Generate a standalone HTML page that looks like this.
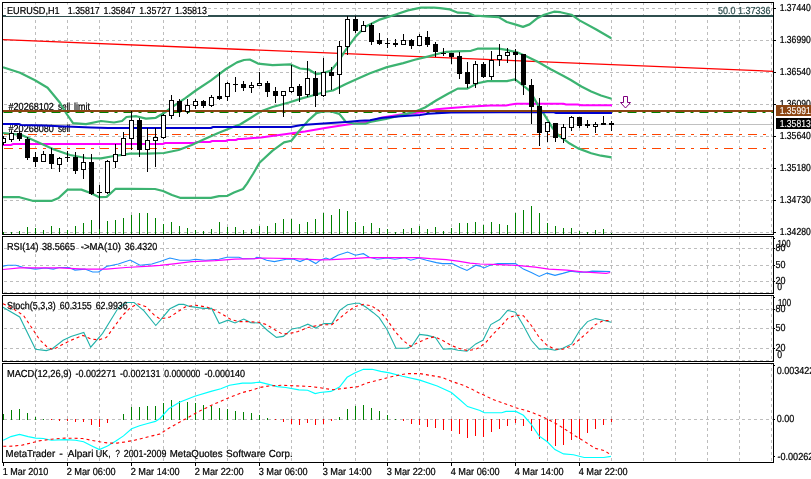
<!DOCTYPE html>
<html><head><meta charset="utf-8"><title>EURUSD,H1</title>
<style>html,body{margin:0;padding:0;background:#fff;overflow:hidden}svg{display:block}text{stroke:#000;stroke-width:.12px;font-family:"Liberation Sans",sans-serif;font-size:10.2px;text-rendering:geometricPrecision;fill:#000}</style></head><body>
<svg width="811" height="479" viewBox="0 0 811 479">
<rect width="811" height="479" fill="#fff"/>
<g stroke="#bdbdbd" stroke-width="1" stroke-dasharray="3 3" shape-rendering="crispEdges" fill="none">
<line x1="35.5" y1="2" x2="35.5" y2="234"/>
<line x1="67.5" y1="2" x2="67.5" y2="234"/>
<line x1="99.5" y1="2" x2="99.5" y2="234"/>
<line x1="131.5" y1="2" x2="131.5" y2="234"/>
<line x1="163.5" y1="2" x2="163.5" y2="234"/>
<line x1="195.5" y1="2" x2="195.5" y2="234"/>
<line x1="227.5" y1="2" x2="227.5" y2="234"/>
<line x1="259.5" y1="2" x2="259.5" y2="234"/>
<line x1="291.5" y1="2" x2="291.5" y2="234"/>
<line x1="323.5" y1="2" x2="323.5" y2="234"/>
<line x1="355.5" y1="2" x2="355.5" y2="234"/>
<line x1="387.5" y1="2" x2="387.5" y2="234"/>
<line x1="419.5" y1="2" x2="419.5" y2="234"/>
<line x1="451.5" y1="2" x2="451.5" y2="234"/>
<line x1="483.5" y1="2" x2="483.5" y2="234"/>
<line x1="515.5" y1="2" x2="515.5" y2="234"/>
<line x1="547.5" y1="2" x2="547.5" y2="234"/>
<line x1="579.5" y1="2" x2="579.5" y2="234"/>
<line x1="611.5" y1="2" x2="611.5" y2="234"/>
<line x1="643.5" y1="2" x2="643.5" y2="234"/>
<line x1="675.5" y1="2" x2="675.5" y2="234"/>
<line x1="707.5" y1="2" x2="707.5" y2="234"/>
<line x1="739.5" y1="2" x2="739.5" y2="234"/>
<line x1="771.5" y1="2" x2="771.5" y2="234"/>
<line x1="35.5" y1="236" x2="35.5" y2="293" stroke-dashoffset="0"/>
<line x1="67.5" y1="236" x2="67.5" y2="293" stroke-dashoffset="0"/>
<line x1="99.5" y1="236" x2="99.5" y2="293" stroke-dashoffset="0"/>
<line x1="131.5" y1="236" x2="131.5" y2="293" stroke-dashoffset="0"/>
<line x1="163.5" y1="236" x2="163.5" y2="293" stroke-dashoffset="0"/>
<line x1="195.5" y1="236" x2="195.5" y2="293" stroke-dashoffset="0"/>
<line x1="227.5" y1="236" x2="227.5" y2="293" stroke-dashoffset="0"/>
<line x1="259.5" y1="236" x2="259.5" y2="293" stroke-dashoffset="0"/>
<line x1="291.5" y1="236" x2="291.5" y2="293" stroke-dashoffset="0"/>
<line x1="323.5" y1="236" x2="323.5" y2="293" stroke-dashoffset="0"/>
<line x1="355.5" y1="236" x2="355.5" y2="293" stroke-dashoffset="0"/>
<line x1="387.5" y1="236" x2="387.5" y2="293" stroke-dashoffset="0"/>
<line x1="419.5" y1="236" x2="419.5" y2="293" stroke-dashoffset="0"/>
<line x1="451.5" y1="236" x2="451.5" y2="293" stroke-dashoffset="0"/>
<line x1="483.5" y1="236" x2="483.5" y2="293" stroke-dashoffset="0"/>
<line x1="515.5" y1="236" x2="515.5" y2="293" stroke-dashoffset="0"/>
<line x1="547.5" y1="236" x2="547.5" y2="293" stroke-dashoffset="0"/>
<line x1="579.5" y1="236" x2="579.5" y2="293" stroke-dashoffset="0"/>
<line x1="611.5" y1="236" x2="611.5" y2="293" stroke-dashoffset="0"/>
<line x1="643.5" y1="236" x2="643.5" y2="293" stroke-dashoffset="0"/>
<line x1="675.5" y1="236" x2="675.5" y2="293" stroke-dashoffset="0"/>
<line x1="707.5" y1="236" x2="707.5" y2="293" stroke-dashoffset="0"/>
<line x1="739.5" y1="236" x2="739.5" y2="293" stroke-dashoffset="0"/>
<line x1="771.5" y1="236" x2="771.5" y2="293" stroke-dashoffset="0"/>
<line x1="35.5" y1="295" x2="35.5" y2="361" stroke-dashoffset="5"/>
<line x1="67.5" y1="295" x2="67.5" y2="361" stroke-dashoffset="5"/>
<line x1="99.5" y1="295" x2="99.5" y2="361" stroke-dashoffset="5"/>
<line x1="131.5" y1="295" x2="131.5" y2="361" stroke-dashoffset="5"/>
<line x1="163.5" y1="295" x2="163.5" y2="361" stroke-dashoffset="5"/>
<line x1="195.5" y1="295" x2="195.5" y2="361" stroke-dashoffset="5"/>
<line x1="227.5" y1="295" x2="227.5" y2="361" stroke-dashoffset="5"/>
<line x1="259.5" y1="295" x2="259.5" y2="361" stroke-dashoffset="5"/>
<line x1="291.5" y1="295" x2="291.5" y2="361" stroke-dashoffset="5"/>
<line x1="323.5" y1="295" x2="323.5" y2="361" stroke-dashoffset="5"/>
<line x1="355.5" y1="295" x2="355.5" y2="361" stroke-dashoffset="5"/>
<line x1="387.5" y1="295" x2="387.5" y2="361" stroke-dashoffset="5"/>
<line x1="419.5" y1="295" x2="419.5" y2="361" stroke-dashoffset="5"/>
<line x1="451.5" y1="295" x2="451.5" y2="361" stroke-dashoffset="5"/>
<line x1="483.5" y1="295" x2="483.5" y2="361" stroke-dashoffset="5"/>
<line x1="515.5" y1="295" x2="515.5" y2="361" stroke-dashoffset="5"/>
<line x1="547.5" y1="295" x2="547.5" y2="361" stroke-dashoffset="5"/>
<line x1="579.5" y1="295" x2="579.5" y2="361" stroke-dashoffset="5"/>
<line x1="611.5" y1="295" x2="611.5" y2="361" stroke-dashoffset="5"/>
<line x1="643.5" y1="295" x2="643.5" y2="361" stroke-dashoffset="5"/>
<line x1="675.5" y1="295" x2="675.5" y2="361" stroke-dashoffset="5"/>
<line x1="707.5" y1="295" x2="707.5" y2="361" stroke-dashoffset="5"/>
<line x1="739.5" y1="295" x2="739.5" y2="361" stroke-dashoffset="5"/>
<line x1="771.5" y1="295" x2="771.5" y2="361" stroke-dashoffset="5"/>
<line x1="35.5" y1="363" x2="35.5" y2="462" stroke-dashoffset="1"/>
<line x1="67.5" y1="363" x2="67.5" y2="462" stroke-dashoffset="1"/>
<line x1="99.5" y1="363" x2="99.5" y2="462" stroke-dashoffset="1"/>
<line x1="131.5" y1="363" x2="131.5" y2="462" stroke-dashoffset="1"/>
<line x1="163.5" y1="363" x2="163.5" y2="462" stroke-dashoffset="1"/>
<line x1="195.5" y1="363" x2="195.5" y2="462" stroke-dashoffset="1"/>
<line x1="227.5" y1="363" x2="227.5" y2="462" stroke-dashoffset="1"/>
<line x1="259.5" y1="363" x2="259.5" y2="462" stroke-dashoffset="1"/>
<line x1="291.5" y1="363" x2="291.5" y2="462" stroke-dashoffset="1"/>
<line x1="323.5" y1="363" x2="323.5" y2="462" stroke-dashoffset="1"/>
<line x1="355.5" y1="363" x2="355.5" y2="462" stroke-dashoffset="1"/>
<line x1="387.5" y1="363" x2="387.5" y2="462" stroke-dashoffset="1"/>
<line x1="419.5" y1="363" x2="419.5" y2="462" stroke-dashoffset="1"/>
<line x1="451.5" y1="363" x2="451.5" y2="462" stroke-dashoffset="1"/>
<line x1="483.5" y1="363" x2="483.5" y2="462" stroke-dashoffset="1"/>
<line x1="515.5" y1="363" x2="515.5" y2="462" stroke-dashoffset="1"/>
<line x1="547.5" y1="363" x2="547.5" y2="462" stroke-dashoffset="1"/>
<line x1="579.5" y1="363" x2="579.5" y2="462" stroke-dashoffset="1"/>
<line x1="611.5" y1="363" x2="611.5" y2="462" stroke-dashoffset="1"/>
<line x1="643.5" y1="363" x2="643.5" y2="462" stroke-dashoffset="1"/>
<line x1="675.5" y1="363" x2="675.5" y2="462" stroke-dashoffset="1"/>
<line x1="707.5" y1="363" x2="707.5" y2="462" stroke-dashoffset="1"/>
<line x1="739.5" y1="363" x2="739.5" y2="462" stroke-dashoffset="1"/>
<line x1="771.5" y1="363" x2="771.5" y2="462" stroke-dashoffset="1"/>
<line x1="4" y1="8.5" x2="773" y2="8.5"/>
<line x1="4" y1="40.5" x2="773" y2="40.5"/>
<line x1="4" y1="72.5" x2="773" y2="72.5"/>
<line x1="4" y1="104.5" x2="773" y2="104.5"/>
<line x1="4" y1="136.5" x2="773" y2="136.5"/>
<line x1="4" y1="168.5" x2="773" y2="168.5"/>
<line x1="4" y1="200.5" x2="773" y2="200.5"/>
<line x1="4" y1="232.5" x2="773" y2="232.5"/>
<line x1="4" y1="248.5" x2="773" y2="248.5"/>
<line x1="4" y1="265.5" x2="773" y2="265.5"/>
<line x1="4" y1="281.5" x2="773" y2="281.5"/>
<line x1="4" y1="292.5" x2="773" y2="292.5"/>
<line x1="4" y1="309.5" x2="773" y2="309.5"/>
<line x1="4" y1="328.5" x2="773" y2="328.5"/>
<line x1="4" y1="348.5" x2="773" y2="348.5"/>
<line x1="4" y1="360.5" x2="773" y2="360.5"/>
<line x1="4" y1="419.5" x2="773" y2="419.5"/>
</g>
<g stroke="#008000" stroke-width="1" shape-rendering="crispEdges">
<line x1="3.5" y1="232.0" x2="3.5" y2="234"/>
<line x1="11.5" y1="232.0" x2="11.5" y2="234"/>
<line x1="19.5" y1="231.0" x2="19.5" y2="234"/>
<line x1="27.5" y1="227.0" x2="27.5" y2="234"/>
<line x1="35.5" y1="228.0" x2="35.5" y2="234"/>
<line x1="43.5" y1="229.8" x2="43.5" y2="234"/>
<line x1="51.5" y1="226.0" x2="51.5" y2="234"/>
<line x1="59.5" y1="228.0" x2="59.5" y2="234"/>
<line x1="67.5" y1="230.0" x2="67.5" y2="234"/>
<line x1="75.5" y1="226.0" x2="75.5" y2="234"/>
<line x1="83.5" y1="223.0" x2="83.5" y2="234"/>
<line x1="91.5" y1="220.0" x2="91.5" y2="234"/>
<line x1="99.5" y1="218.0" x2="99.5" y2="234"/>
<line x1="107.5" y1="220.8" x2="107.5" y2="234"/>
<line x1="115.5" y1="220.0" x2="115.5" y2="234"/>
<line x1="123.5" y1="218.0" x2="123.5" y2="234"/>
<line x1="131.5" y1="215.0" x2="131.5" y2="234"/>
<line x1="139.5" y1="213.0" x2="139.5" y2="234"/>
<line x1="147.5" y1="213.0" x2="147.5" y2="234"/>
<line x1="155.5" y1="217.8" x2="155.5" y2="234"/>
<line x1="163.5" y1="224.0" x2="163.5" y2="234"/>
<line x1="171.5" y1="222.0" x2="171.5" y2="234"/>
<line x1="179.5" y1="226.0" x2="179.5" y2="234"/>
<line x1="187.5" y1="228.0" x2="187.5" y2="234"/>
<line x1="195.5" y1="230.0" x2="195.5" y2="234"/>
<line x1="203.5" y1="231.0" x2="203.5" y2="234"/>
<line x1="211.5" y1="229.2" x2="211.5" y2="234"/>
<line x1="219.5" y1="222.0" x2="219.5" y2="234"/>
<line x1="227.5" y1="226.8" x2="227.5" y2="234"/>
<line x1="235.5" y1="226.8" x2="235.5" y2="234"/>
<line x1="243.5" y1="230.0" x2="243.5" y2="234"/>
<line x1="251.5" y1="228.9" x2="251.5" y2="234"/>
<line x1="259.5" y1="226.0" x2="259.5" y2="234"/>
<line x1="267.5" y1="226.0" x2="267.5" y2="234"/>
<line x1="275.5" y1="223.0" x2="275.5" y2="234"/>
<line x1="283.5" y1="219.0" x2="283.5" y2="234"/>
<line x1="291.5" y1="219.0" x2="291.5" y2="234"/>
<line x1="299.5" y1="224.0" x2="299.5" y2="234"/>
<line x1="307.5" y1="222.0" x2="307.5" y2="234"/>
<line x1="315.5" y1="219.0" x2="315.5" y2="234"/>
<line x1="323.5" y1="212.8" x2="323.5" y2="234"/>
<line x1="331.5" y1="215.0" x2="331.5" y2="234"/>
<line x1="339.5" y1="208.8" x2="339.5" y2="234"/>
<line x1="347.5" y1="211.0" x2="347.5" y2="234"/>
<line x1="355.5" y1="222.0" x2="355.5" y2="234"/>
<line x1="363.5" y1="226.0" x2="363.5" y2="234"/>
<line x1="371.5" y1="223.0" x2="371.5" y2="234"/>
<line x1="379.5" y1="228.0" x2="379.5" y2="234"/>
<line x1="387.5" y1="229.0" x2="387.5" y2="234"/>
<line x1="395.5" y1="232.0" x2="395.5" y2="234"/>
<line x1="403.5" y1="229.0" x2="403.5" y2="234"/>
<line x1="411.5" y1="228.0" x2="411.5" y2="234"/>
<line x1="419.5" y1="226.0" x2="419.5" y2="234"/>
<line x1="427.5" y1="229.0" x2="427.5" y2="234"/>
<line x1="435.5" y1="227.0" x2="435.5" y2="234"/>
<line x1="443.5" y1="231.0" x2="443.5" y2="234"/>
<line x1="451.5" y1="228.0" x2="451.5" y2="234"/>
<line x1="459.5" y1="223.0" x2="459.5" y2="234"/>
<line x1="467.5" y1="223.0" x2="467.5" y2="234"/>
<line x1="475.5" y1="222.0" x2="475.5" y2="234"/>
<line x1="483.5" y1="224.8" x2="483.5" y2="234"/>
<line x1="491.5" y1="222.0" x2="491.5" y2="234"/>
<line x1="499.5" y1="224.0" x2="499.5" y2="234"/>
<line x1="507.5" y1="225.0" x2="507.5" y2="234"/>
<line x1="515.5" y1="212.8" x2="515.5" y2="234"/>
<line x1="523.5" y1="210.0" x2="523.5" y2="234"/>
<line x1="531.5" y1="206.0" x2="531.5" y2="234"/>
<line x1="539.5" y1="212.8" x2="539.5" y2="234"/>
<line x1="547.5" y1="223.0" x2="547.5" y2="234"/>
<line x1="555.5" y1="226.0" x2="555.5" y2="234"/>
<line x1="563.5" y1="228.0" x2="563.5" y2="234"/>
<line x1="571.5" y1="228.0" x2="571.5" y2="234"/>
<line x1="579.5" y1="231.0" x2="579.5" y2="234"/>
<line x1="587.5" y1="232.0" x2="587.5" y2="234"/>
<line x1="595.5" y1="230.0" x2="595.5" y2="234"/>
<line x1="603.5" y1="229.0" x2="603.5" y2="234"/>
<line x1="611.5" y1="232.6" x2="611.5" y2="234"/>
</g>
<line x1="3" y1="124.5" x2="773" y2="124.5" stroke="#c0c0c0" shape-rendering="crispEdges"/>
<rect x="3" y="15" width="770" height="2" fill="#2f4f4f" />
<line x1="3" y1="39.6" x2="773" y2="71.3" stroke="#ff0000" stroke-width="1.3"/>
<g stroke="#ff4500" stroke-width="1" stroke-dasharray="9 6 3 6" shape-rendering="crispEdges">
<line x1="3.5" y1="134.5" x2="770" y2="134.5"/><line x1="3.5" y1="148.5" x2="770" y2="148.5"/></g>
<defs><filter id="tf" x="0" y="0" width="811" height="479" filterUnits="userSpaceOnUse" color-interpolation-filters="sRGB"><feComponentTransfer><feFuncA type="gamma" amplitude="1" exponent="0.8" offset="0"/></feComponentTransfer></filter></defs>
<g filter="url(#tf)">
<text x="8.5" y="110.0" textLength="45.4" lengthAdjust="spacingAndGlyphs">#20268102</text>
<text x="57.9" y="110.0" textLength="12.3" lengthAdjust="spacingAndGlyphs">sell</text>
<text x="8.5" y="132.0" textLength="45.4" lengthAdjust="spacingAndGlyphs">#20268080</text>
<text x="57.9" y="132.0" textLength="12.3" lengthAdjust="spacingAndGlyphs">sell</text>
<text x="74.1" y="110.0" textLength="15.9" lengthAdjust="spacingAndGlyphs">limit</text>
</g>
<line x1="3.5" y1="112.5" x2="773" y2="112.5" stroke="#008000" stroke-width="1.2" stroke-dasharray="9 6 3 6"/>
<polyline fill="none" stroke="#ff00ff" stroke-width="2" points="3.0,145.0 11.0,145.0 13.0,144.0 163.0,144.0 165.0,143.0 195.0,143.0 197.0,142.0 210.0,142.0 212.0,141.0 226.0,141.0 228.0,140.0 236.0,140.0 238.0,139.0 242.0,139.0 261.0,137.4 281.0,134.8 305.0,131.6 325.0,128.0 346.0,124.7 370.0,121.5 381.0,117.8 400.7,114.5 420.0,112.4 436.5,109.2 451.0,108.0 467.5,106.7 490.0,105.4 506.0,105.4 516.0,103.7 563.5,103.7 566.0,104.5 578.0,104.5 581.0,105.2 612.0,105.2"/>
<g fill="none" stroke="#3cb371" stroke-width="2.2" stroke-linejoin="round">
<polyline points="3.0,67.2 20.0,72.7 35.0,80.2 47.6,87.7 60.0,102.8 66.0,113.0 73.0,123.2 86.0,124.2 101.0,121.0 114.0,122.5 122.0,121.0 126.5,117.0 136.3,116.2 146.0,118.6 155.8,117.8 164.0,113.0 172.0,107.2 185.0,98.3 196.5,90.0 211.0,80.4 226.0,69.0 237.0,62.4 244.0,60.0 249.8,59.5 258.0,63.6 272.6,65.2 290.5,64.4 300.0,68.5 308.4,69.3 316.5,74.2 324.7,72.6 331.0,70.5 337.0,63.3 346.3,49.2 356.0,36.2 365.8,26.4 378.9,19.9 395.0,14.8 408.0,10.4 421.0,7.7 434.0,7.7 440.0,8.1 449.8,9.4 458.0,12.7 467.7,13.0 474.2,15.5 486.0,16.3 498.6,17.1 506.8,22.0 515.0,24.4 523.0,26.9 529.6,24.4 537.7,17.9 544.2,14.7 554.0,11.7 560.5,12.2 571.4,14.7 579.5,20.4 595.8,29.3 611.3,38.3"/>
<polyline points="3.0,133.0 21.0,134.8 37.5,142.0 54.0,149.5 70.0,155.0 86.0,158.0 101.0,158.4 114.0,156.0 122.0,154.8 130.0,153.6 147.7,153.6 164.0,153.0 178.6,150.0 191.7,145.0 204.7,139.0 217.7,133.2 232.4,127.3 240.0,124.5 249.8,118.5 261.0,111.3 272.6,107.0 288.9,102.5 301.9,98.4 311.7,95.7 324.7,92.0 332.8,90.5 345.9,84.0 357.0,79.0 370.0,73.2 387.0,67.1 403.3,63.1 414.7,59.8 427.7,56.6 440.0,53.3 446.5,51.8 456.3,51.3 471.0,50.8 477.5,48.7 498.6,48.7 505.0,49.7 516.5,52.1 526.3,56.3 537.7,61.8 550.7,69.2 564.0,76.2 570.8,80.0 581.4,86.5 591.2,91.4 601.0,95.5 611.6,98.7"/>
<polyline points="3.0,197.2 19.5,197.2 32.5,200.8 52.0,200.8 58.6,198.0 67.6,189.6 81.4,189.6 91.2,193.2 99.3,197.2 106.7,196.9 115.6,188.8 130.0,188.8 155.0,189.0 163.0,191.0 172.0,195.0 180.0,197.8 211.0,197.8 219.0,196.2 227.5,195.8 234.0,192.6 243.0,189.0 247.0,183.6 250.0,178.7 253.0,174.0 259.5,162.8 272.6,150.6 284.0,142.4 291.3,140.8 298.6,131.8 308.4,120.4 316.5,113.1 323.0,111.5 331.2,111.5 339.3,113.9 345.9,122.0 354.0,123.7 365.4,123.7 370.0,122.0 386.0,119.0 402.3,114.9 415.4,111.6 425.0,107.5 436.5,100.2 448.0,93.7 457.7,88.6 467.5,88.6 477.5,83.3 487.5,81.1 507.0,81.1 515.0,79.4 521.7,84.3 529.8,90.8 537.5,104.4 544.0,114.2 552.0,127.2 558.6,135.4 568.4,142.7 578.2,148.4 591.2,153.3 601.0,155.7 611.6,157.4"/>
</g>
<polyline fill="none" stroke="#0000cd" stroke-width="2" points="3.0,124.0 19.0,124.0 21.0,125.0 44.0,125.4 60.0,126.3 91.0,127.5 108.0,128.0 211.0,128.0 213.0,127.0 291.0,127.0 296.0,126.0 302.0,125.0 316.0,124.0 331.0,123.0 346.0,122.0 360.0,120.8 370.0,120.2 381.0,118.1 400.7,116.2 420.0,114.9 428.0,113.7 451.0,112.6 500.0,112.2 554.0,112.2 556.0,113.0 612.0,113.0"/>
<rect x="3" y="110" width="770" height="2" fill="#8b4513"/>
<clipPath id="cp"><rect x="3" y="3" width="770" height="231"/></clipPath>
<g stroke="#000" stroke-width="1" shape-rendering="crispEdges" clip-path="url(#cp)">
<line x1="3.5" y1="136" x2="3.5" y2="145"/>
<rect x="1.5" y="138.5" width="4" height="4" fill="#fff"/>
<line x1="11.5" y1="131" x2="11.5" y2="142"/>
<rect x="9.5" y="133.5" width="4" height="6" fill="#fff"/>
<line x1="19.5" y1="131" x2="19.5" y2="141"/>
<rect x="17.5" y="133.5" width="4" height="5" fill="#000"/>
<line x1="27.5" y1="137" x2="27.5" y2="160"/>
<rect x="25.5" y="139.5" width="4" height="18" fill="#000"/>
<line x1="35.5" y1="152" x2="35.5" y2="167"/>
<rect x="33.5" y="157.5" width="4" height="4" fill="#000"/>
<line x1="43.5" y1="151" x2="43.5" y2="162"/>
<rect x="41.5" y="154.5" width="4" height="7" fill="#fff"/>
<line x1="51.5" y1="148" x2="51.5" y2="169"/>
<rect x="49.5" y="154.5" width="4" height="9" fill="#000"/>
<line x1="59.5" y1="157" x2="59.5" y2="172"/>
<rect x="57.5" y="158.5" width="4" height="6" fill="#fff"/>
<line x1="67.5" y1="151" x2="67.5" y2="162"/>
<line x1="65" y1="157.5" x2="70" y2="157.5"/>
<line x1="75.5" y1="152" x2="75.5" y2="174"/>
<rect x="73.5" y="157.5" width="4" height="13" fill="#000"/>
<line x1="83.5" y1="154" x2="83.5" y2="179"/>
<rect x="81.5" y="162.5" width="4" height="7" fill="#fff"/>
<line x1="91.5" y1="154" x2="91.5" y2="195"/>
<rect x="89.5" y="162.5" width="4" height="31" fill="#000"/>
<line x1="99.5" y1="185" x2="99.5" y2="229"/>
<line x1="97" y1="192.5" x2="102" y2="192.5"/>
<line x1="107.5" y1="160" x2="107.5" y2="194"/>
<rect x="105.5" y="161.5" width="4" height="31" fill="#fff"/>
<line x1="115.5" y1="144" x2="115.5" y2="168"/>
<rect x="113.5" y="154.5" width="4" height="7" fill="#fff"/>
<line x1="123.5" y1="132" x2="123.5" y2="156"/>
<rect x="121.5" y="138.5" width="4" height="17" fill="#fff"/>
<line x1="131.5" y1="111" x2="131.5" y2="150"/>
<rect x="129.5" y="120.5" width="4" height="18" fill="#fff"/>
<line x1="139.5" y1="118" x2="139.5" y2="157"/>
<rect x="137.5" y="120.5" width="4" height="29" fill="#000"/>
<line x1="147.5" y1="128" x2="147.5" y2="172"/>
<rect x="145.5" y="140.5" width="4" height="9" fill="#fff"/>
<line x1="155.5" y1="128" x2="155.5" y2="167"/>
<rect x="153.5" y="137.5" width="4" height="3" fill="#fff"/>
<line x1="163.5" y1="114" x2="163.5" y2="139"/>
<rect x="161.5" y="115.5" width="4" height="22" fill="#fff"/>
<line x1="171.5" y1="95" x2="171.5" y2="119"/>
<rect x="169.5" y="100.5" width="4" height="15" fill="#fff"/>
<line x1="179.5" y1="99" x2="179.5" y2="117"/>
<rect x="177.5" y="101.5" width="4" height="10" fill="#000"/>
<line x1="187.5" y1="99" x2="187.5" y2="114"/>
<rect x="185.5" y="105.5" width="4" height="6" fill="#fff"/>
<line x1="195.5" y1="99" x2="195.5" y2="109"/>
<rect x="193.5" y="101.5" width="4" height="4" fill="#fff"/>
<line x1="203.5" y1="100" x2="203.5" y2="108"/>
<rect x="201.5" y="101.5" width="4" height="4" fill="#000"/>
<line x1="211.5" y1="95" x2="211.5" y2="107"/>
<rect x="209.5" y="97.5" width="4" height="8" fill="#fff"/>
<line x1="219.5" y1="72" x2="219.5" y2="100"/>
<rect x="217.5" y="96.5" width="4" height="2" fill="#000"/>
<line x1="227.5" y1="82" x2="227.5" y2="101"/>
<rect x="225.5" y="83.5" width="4" height="13" fill="#fff"/>
<line x1="235.5" y1="77" x2="235.5" y2="92"/>
<line x1="233" y1="84.5" x2="238" y2="84.5"/>
<line x1="243.5" y1="81" x2="243.5" y2="91"/>
<rect x="241.5" y="84.5" width="4" height="3" fill="#000"/>
<line x1="251.5" y1="82" x2="251.5" y2="93"/>
<rect x="249.5" y="85.5" width="4" height="2" fill="#fff"/>
<line x1="259.5" y1="72" x2="259.5" y2="86"/>
<rect x="257.5" y="83.5" width="4" height="2" fill="#fff"/>
<line x1="267.5" y1="81" x2="267.5" y2="97"/>
<rect x="265.5" y="83.5" width="4" height="8" fill="#000"/>
<line x1="275.5" y1="87" x2="275.5" y2="103"/>
<rect x="273.5" y="91.5" width="4" height="4" fill="#000"/>
<line x1="283.5" y1="91" x2="283.5" y2="117"/>
<rect x="281.5" y="91.5" width="4" height="4" fill="#fff"/>
<line x1="291.5" y1="65" x2="291.5" y2="93"/>
<rect x="289.5" y="87.5" width="4" height="4" fill="#fff"/>
<line x1="299.5" y1="84" x2="299.5" y2="102"/>
<rect x="297.5" y="86.5" width="4" height="9" fill="#000"/>
<line x1="307.5" y1="61" x2="307.5" y2="97"/>
<rect x="305.5" y="78.5" width="4" height="16" fill="#fff"/>
<line x1="315.5" y1="71" x2="315.5" y2="107"/>
<rect x="313.5" y="78.5" width="4" height="17" fill="#000"/>
<line x1="323.5" y1="58" x2="323.5" y2="97"/>
<rect x="321.5" y="72.5" width="4" height="23" fill="#fff"/>
<line x1="331.5" y1="67" x2="331.5" y2="90"/>
<rect x="329.5" y="72.5" width="4" height="3" fill="#000"/>
<line x1="339.5" y1="41" x2="339.5" y2="94"/>
<rect x="337.5" y="46.5" width="4" height="28" fill="#fff"/>
<line x1="347.5" y1="16" x2="347.5" y2="55"/>
<rect x="345.5" y="19.5" width="4" height="27" fill="#fff"/>
<line x1="355.5" y1="16" x2="355.5" y2="33"/>
<rect x="353.5" y="19.5" width="4" height="11" fill="#000"/>
<line x1="363.5" y1="21" x2="363.5" y2="32"/>
<rect x="361.5" y="25.5" width="4" height="6" fill="#fff"/>
<line x1="371.5" y1="23" x2="371.5" y2="45"/>
<rect x="369.5" y="25.5" width="4" height="16" fill="#000"/>
<line x1="379.5" y1="33" x2="379.5" y2="45"/>
<rect x="377.5" y="40.5" width="4" height="3" fill="#000"/>
<line x1="387.5" y1="38" x2="387.5" y2="48"/>
<line x1="385" y1="43.5" x2="390" y2="43.5"/>
<line x1="395.5" y1="39" x2="395.5" y2="47"/>
<rect x="393.5" y="43.5" width="4" height="1" fill="#000"/>
<line x1="403.5" y1="34" x2="403.5" y2="45"/>
<rect x="401.5" y="40.5" width="4" height="4" fill="#fff"/>
<line x1="411.5" y1="39" x2="411.5" y2="49"/>
<rect x="409.5" y="40.5" width="4" height="5" fill="#000"/>
<line x1="419.5" y1="34" x2="419.5" y2="46"/>
<rect x="417.5" y="36.5" width="4" height="9" fill="#fff"/>
<line x1="427.5" y1="31" x2="427.5" y2="47"/>
<rect x="425.5" y="37.5" width="4" height="7" fill="#000"/>
<line x1="435.5" y1="42" x2="435.5" y2="57"/>
<rect x="433.5" y="44.5" width="4" height="7" fill="#000"/>
<line x1="443.5" y1="48" x2="443.5" y2="56"/>
<line x1="441" y1="53.5" x2="446" y2="53.5"/>
<line x1="451.5" y1="53" x2="451.5" y2="64"/>
<rect x="449.5" y="53.5" width="4" height="3" fill="#000"/>
<line x1="459.5" y1="52" x2="459.5" y2="79"/>
<rect x="457.5" y="56.5" width="4" height="17" fill="#000"/>
<line x1="467.5" y1="62" x2="467.5" y2="88"/>
<rect x="465.5" y="72.5" width="4" height="11" fill="#000"/>
<line x1="475.5" y1="61" x2="475.5" y2="88"/>
<rect x="473.5" y="64.5" width="4" height="19" fill="#fff"/>
<line x1="483.5" y1="62" x2="483.5" y2="78"/>
<rect x="481.5" y="64.5" width="4" height="12" fill="#000"/>
<line x1="491.5" y1="51" x2="491.5" y2="80"/>
<rect x="489.5" y="60.5" width="4" height="16" fill="#fff"/>
<line x1="499.5" y1="44" x2="499.5" y2="66"/>
<rect x="497.5" y="55.5" width="4" height="4" fill="#fff"/>
<line x1="507.5" y1="48" x2="507.5" y2="63"/>
<rect x="505.5" y="52.5" width="4" height="3" fill="#fff"/>
<line x1="515.5" y1="49" x2="515.5" y2="81"/>
<rect x="513.5" y="52.5" width="4" height="2" fill="#000"/>
<line x1="523.5" y1="54" x2="523.5" y2="95"/>
<rect x="521.5" y="54.5" width="4" height="30" fill="#000"/>
<line x1="531.5" y1="79" x2="531.5" y2="124"/>
<rect x="529.5" y="85.5" width="4" height="21" fill="#000"/>
<line x1="539.5" y1="98" x2="539.5" y2="146"/>
<rect x="537.5" y="106.5" width="4" height="26" fill="#000"/>
<line x1="547.5" y1="122" x2="547.5" y2="142"/>
<rect x="545.5" y="122.5" width="4" height="9" fill="#fff"/>
<line x1="555.5" y1="123" x2="555.5" y2="142"/>
<rect x="553.5" y="123.5" width="4" height="14" fill="#000"/>
<line x1="563.5" y1="124" x2="563.5" y2="143"/>
<rect x="561.5" y="127.5" width="4" height="11" fill="#fff"/>
<line x1="571.5" y1="116" x2="571.5" y2="131"/>
<rect x="569.5" y="117.5" width="4" height="10" fill="#fff"/>
<line x1="579.5" y1="117" x2="579.5" y2="128"/>
<rect x="577.5" y="117.5" width="4" height="8" fill="#000"/>
<line x1="587.5" y1="120" x2="587.5" y2="128"/>
<rect x="585.5" y="124.5" width="4" height="1" fill="#000"/>
<line x1="595.5" y1="122" x2="595.5" y2="133"/>
<rect x="593.5" y="124.5" width="4" height="2" fill="#fff"/>
<line x1="603.5" y1="116" x2="603.5" y2="125"/>
<rect x="601.5" y="123.5" width="4" height="1" fill="#000"/>
<line x1="611.5" y1="121" x2="611.5" y2="131"/>
<rect x="609.5" y="123.5" width="4" height="1" fill="#000"/>
</g>
<path d="M623.5 96.5h4v6h3l-5 5.5l-5-5.5h3z" fill="#fff" stroke="#800080" stroke-width="1"/>
<polyline fill="none" stroke="#1e90ff" stroke-width="1.1" points="3.0,266.1 7.9,265.2 15.8,265.2 23.7,267.5 35.5,269.1 45.4,268.0 53.3,269.1 59.2,267.5 69.0,267.5 75.0,270.1 84.8,269.1 92.7,272.0 98.6,272.0 106.5,266.5 118.3,264.0 130.2,260.0 140.0,265.2 151.9,264.0 160.0,261.6 169.9,258.0 179.7,260.2 189.6,260.2 195.5,259.2 205.4,260.2 219.0,259.2 227.0,257.3 239.0,257.3 242.8,258.7 254.7,258.7 256.6,257.3 260.6,257.7 266.5,260.2 274.4,261.6 286.2,259.2 294.0,259.2 300.0,261.6 307.0,258.7 315.8,263.6 320.0,260.2 326.0,258.0 329.9,259.6 337.8,255.3 347.6,252.1 355.5,255.3 363.4,253.7 369.3,257.3 377.2,259.2 387.0,258.0 395.0,259.2 404.8,257.7 410.7,260.2 418.6,258.0 426.5,260.2 436.4,262.6 442.3,263.6 452.1,263.6 460.0,267.5 467.0,270.5 475.8,265.2 480.0,266.1 484.0,267.9 489.9,265.2 497.8,263.6 515.5,263.6 523.4,269.1 531.3,272.5 539.2,276.4 547.0,273.1 555.0,275.4 562.8,273.4 570.7,271.1 578.6,272.1 586.5,272.1 592.4,271.1 610.2,271.5"/>
<polyline fill="none" stroke="#ff00ff" stroke-width="1.2" points="3.0,269.5 19.7,267.9 59.0,267.9 84.8,269.1 106.5,269.1 126.0,267.5 150.0,266.1 160.0,265.4 175.8,263.6 191.6,261.6 215.2,260.6 235.0,259.2 254.7,258.7 262.6,258.0 294.0,258.7 320.0,259.8 331.8,259.6 351.5,258.7 367.3,257.7 418.6,257.7 430.4,258.7 446.2,259.6 458.0,261.2 470.0,263.2 480.0,264.0 499.7,264.6 519.4,265.6 535.2,267.1 549.0,269.1 566.8,270.1 582.6,271.9 598.3,272.9 606.2,273.4 610.2,272.5"/>
<polyline fill="none" stroke="#20b2aa" stroke-width="1.1" points="3.0,307.2 19.7,317.0 35.5,349.2 46.4,350.6 52.3,348.8 63.1,340.3 71.0,336.4 83.8,332.4 90.7,347.2 102.6,333.4 118.3,307.8 126.2,302.5 134.1,302.5 144.0,310.8 155.8,325.5 160.0,320.6 169.9,308.8 178.7,304.4 183.7,304.4 189.6,306.4 203.4,308.4 211.7,308.4 219.2,323.6 228.0,320.2 235.0,323.0 243.8,319.0 250.7,322.6 259.6,323.0 267.5,330.5 276.4,337.4 283.3,336.4 292.1,328.9 300.0,327.5 307.9,324.2 315.8,328.1 320.0,325.5 324.0,323.6 331.8,323.6 339.7,310.4 347.6,304.8 355.5,303.3 359.4,303.3 365.4,306.8 373.3,312.7 379.2,317.7 387.0,329.5 396.0,348.2 406.8,348.2 411.7,346.3 419.6,334.4 427.5,335.4 435.4,337.4 443.3,349.2 451.2,348.6 458.0,350.2 467.0,351.2 475.8,343.9 480.0,341.8 483.0,340.3 490.8,324.6 499.7,319.6 507.6,310.4 515.5,312.3 523.4,325.5 531.3,340.3 539.2,349.2 547.0,348.6 555.0,350.2 562.8,348.2 571.7,343.9 579.6,330.5 587.5,321.6 595.4,318.6 603.3,320.2 611.2,322.2"/>
<polyline fill="none" stroke="#ff0000" stroke-width="1.1" stroke-dasharray="3 3" points="3.0,303.8 11.8,307.8 23.7,315.7 31.6,327.5 39.4,339.4 47.3,347.2 53.3,349.6 61.0,345.3 71.0,340.3 82.8,335.4 90.7,338.8 98.6,340.0 106.5,337.4 114.4,326.5 122.3,315.7 130.2,307.8 138.0,303.8 146.0,306.8 153.8,314.7 160.0,319.0 169.9,317.0 177.8,311.7 185.6,306.8 195.5,305.2 207.3,307.2 215.2,310.4 223.1,314.7 231.0,319.6 238.9,321.6 246.8,321.6 258.6,322.2 266.5,324.6 274.4,329.5 282.3,334.0 290.2,333.4 298.0,331.5 307.9,327.5 320.0,325.0 331.8,324.6 339.7,318.2 347.6,311.7 355.5,306.4 363.4,304.4 371.3,305.8 379.2,310.8 387.0,319.6 395.0,331.5 402.8,340.3 410.7,346.3 418.6,342.3 426.5,338.8 434.4,336.8 442.3,340.3 450.2,344.7 458.0,348.2 467.9,350.6 475.8,349.2 480.0,347.0 486.0,342.3 491.8,335.4 499.7,327.5 507.6,318.6 515.5,315.1 523.4,315.7 531.3,325.5 539.2,337.4 547.0,345.3 555.0,349.2 562.8,349.2 572.7,345.3 580.6,338.4 587.5,332.4 595.4,324.6 603.3,320.6 610.2,320.6"/>
<g stroke-width="1" shape-rendering="crispEdges">
<line x1="3.5" y1="413.8" x2="3.5" y2="420" stroke="#008000"/>
<line x1="11.5" y1="409.8" x2="11.5" y2="420" stroke="#008000"/>
<line x1="19.5" y1="409.2" x2="19.5" y2="420" stroke="#008000"/>
<line x1="27.5" y1="413.1" x2="27.5" y2="420" stroke="#008000"/>
<line x1="35.5" y1="417.0" x2="35.5" y2="420" stroke="#008000"/>
<line x1="43.5" y1="418.5" x2="43.5" y2="420" stroke="#008000"/>
<line x1="51.5" y1="419" x2="51.5" y2="420.0" stroke="#ff0000"/>
<line x1="59.5" y1="419" x2="59.5" y2="420.7" stroke="#ff0000"/>
<line x1="67.5" y1="419" x2="67.5" y2="420.7" stroke="#ff0000"/>
<line x1="75.5" y1="419" x2="75.5" y2="421.8" stroke="#ff0000"/>
<line x1="83.5" y1="419" x2="83.5" y2="421.8" stroke="#ff0000"/>
<line x1="91.5" y1="419" x2="91.5" y2="424.6" stroke="#ff0000"/>
<line x1="99.5" y1="419" x2="99.5" y2="426.8" stroke="#ff0000"/>
<line x1="107.5" y1="419" x2="107.5" y2="422.9" stroke="#ff0000"/>
<line x1="115.5" y1="419" x2="115.5" y2="419.0" stroke="#ff0000"/>
<line x1="123.5" y1="414.2" x2="123.5" y2="420" stroke="#008000"/>
<line x1="131.5" y1="407.0" x2="131.5" y2="420" stroke="#008000"/>
<line x1="139.5" y1="407.0" x2="139.5" y2="420" stroke="#008000"/>
<line x1="147.5" y1="406.2" x2="147.5" y2="420" stroke="#008000"/>
<line x1="155.5" y1="406.2" x2="155.5" y2="420" stroke="#008000"/>
<line x1="163.5" y1="403.3" x2="163.5" y2="420" stroke="#008000"/>
<line x1="171.5" y1="400.0" x2="171.5" y2="420" stroke="#008000"/>
<line x1="179.5" y1="401.2" x2="179.5" y2="420" stroke="#008000"/>
<line x1="187.5" y1="402.3" x2="187.5" y2="420" stroke="#008000"/>
<line x1="195.5" y1="403.3" x2="195.5" y2="420" stroke="#008000"/>
<line x1="203.5" y1="405.0" x2="203.5" y2="420" stroke="#008000"/>
<line x1="211.5" y1="406.2" x2="211.5" y2="420" stroke="#008000"/>
<line x1="219.5" y1="408.3" x2="219.5" y2="420" stroke="#008000"/>
<line x1="227.5" y1="409.2" x2="227.5" y2="420" stroke="#008000"/>
<line x1="235.5" y1="410.5" x2="235.5" y2="420" stroke="#008000"/>
<line x1="243.5" y1="412.0" x2="243.5" y2="420" stroke="#008000"/>
<line x1="251.5" y1="413.1" x2="251.5" y2="420" stroke="#008000"/>
<line x1="259.5" y1="415.3" x2="259.5" y2="420" stroke="#008000"/>
<line x1="267.5" y1="418.0" x2="267.5" y2="420" stroke="#008000"/>
<line x1="275.5" y1="419" x2="275.5" y2="420.0" stroke="#ff0000"/>
<line x1="283.5" y1="419" x2="283.5" y2="421.8" stroke="#ff0000"/>
<line x1="291.5" y1="419" x2="291.5" y2="423.5" stroke="#ff0000"/>
<line x1="299.5" y1="419" x2="299.5" y2="425.0" stroke="#ff0000"/>
<line x1="307.5" y1="419" x2="307.5" y2="422.9" stroke="#ff0000"/>
<line x1="315.5" y1="419" x2="315.5" y2="425.0" stroke="#ff0000"/>
<line x1="323.5" y1="419" x2="323.5" y2="424.0" stroke="#ff0000"/>
<line x1="331.5" y1="419" x2="331.5" y2="420.7" stroke="#ff0000"/>
<line x1="339.5" y1="417.0" x2="339.5" y2="420" stroke="#008000"/>
<line x1="347.5" y1="409.2" x2="347.5" y2="420" stroke="#008000"/>
<line x1="355.5" y1="406.2" x2="355.5" y2="420" stroke="#008000"/>
<line x1="363.5" y1="405.0" x2="363.5" y2="420" stroke="#008000"/>
<line x1="371.5" y1="408.3" x2="371.5" y2="420" stroke="#008000"/>
<line x1="379.5" y1="411.4" x2="379.5" y2="420" stroke="#008000"/>
<line x1="387.5" y1="415.3" x2="387.5" y2="420" stroke="#008000"/>
<line x1="395.5" y1="418.5" x2="395.5" y2="420" stroke="#008000"/>
<line x1="403.5" y1="419" x2="403.5" y2="420.7" stroke="#ff0000"/>
<line x1="411.5" y1="419" x2="411.5" y2="424.0" stroke="#ff0000"/>
<line x1="419.5" y1="419" x2="419.5" y2="425.0" stroke="#ff0000"/>
<line x1="427.5" y1="419" x2="427.5" y2="426.8" stroke="#ff0000"/>
<line x1="435.5" y1="419" x2="435.5" y2="427.9" stroke="#ff0000"/>
<line x1="443.5" y1="419" x2="443.5" y2="430.0" stroke="#ff0000"/>
<line x1="451.5" y1="419" x2="451.5" y2="430.9" stroke="#ff0000"/>
<line x1="459.5" y1="419" x2="459.5" y2="433.7" stroke="#ff0000"/>
<line x1="467.5" y1="419" x2="467.5" y2="437.6" stroke="#ff0000"/>
<line x1="475.5" y1="419" x2="475.5" y2="435.5" stroke="#ff0000"/>
<line x1="483.5" y1="419" x2="483.5" y2="436.6" stroke="#ff0000"/>
<line x1="491.5" y1="419" x2="491.5" y2="432.2" stroke="#ff0000"/>
<line x1="499.5" y1="419" x2="499.5" y2="428.7" stroke="#ff0000"/>
<line x1="507.5" y1="419" x2="507.5" y2="425.7" stroke="#ff0000"/>
<line x1="515.5" y1="419" x2="515.5" y2="422.9" stroke="#ff0000"/>
<line x1="523.5" y1="419" x2="523.5" y2="425.7" stroke="#ff0000"/>
<line x1="531.5" y1="419" x2="531.5" y2="430.5" stroke="#ff0000"/>
<line x1="539.5" y1="419" x2="539.5" y2="438.7" stroke="#ff0000"/>
<line x1="547.5" y1="419" x2="547.5" y2="441.8" stroke="#ff0000"/>
<line x1="555.5" y1="419" x2="555.5" y2="445.7" stroke="#ff0000"/>
<line x1="563.5" y1="419" x2="563.5" y2="444.6" stroke="#ff0000"/>
<line x1="571.5" y1="419" x2="571.5" y2="440.2" stroke="#ff0000"/>
<line x1="579.5" y1="419" x2="579.5" y2="438.7" stroke="#ff0000"/>
<line x1="587.5" y1="419" x2="587.5" y2="432.6" stroke="#ff0000"/>
<line x1="595.5" y1="419" x2="595.5" y2="428.7" stroke="#ff0000"/>
<line x1="603.5" y1="419" x2="603.5" y2="424.6" stroke="#ff0000"/>
<line x1="611.5" y1="419" x2="611.5" y2="422.0" stroke="#ff0000"/>
</g>
<polyline fill="none" stroke="#00ffff" stroke-width="1.15" points="3.3,440.2 10.9,436.6 19.5,434.4 28.2,436.6 35.8,438.1 43.4,438.5 51.5,440.2 65.0,439.6 75.6,440.2 83.6,441.8 91.4,445.7 99.4,449.6 107.5,446.1 115.5,441.3 123.5,435.9 131.6,428.7 139.6,425.7 147.6,423.5 155.4,421.4 160.0,418.5 168.7,408.8 179.5,402.3 194.7,396.2 211.0,391.4 220.8,388.8 229.5,385.3 242.5,383.1 251.2,383.1 259.9,382.1 268.6,384.4 277.2,386.6 285.9,387.5 299.0,389.9 307.6,390.3 315.2,393.6 320.0,392.5 330.9,391.4 339.5,387.0 347.1,377.3 354.7,372.9 363.4,369.3 372.1,369.3 380.8,371.4 389.5,372.9 402.5,376.2 419.9,380.1 437.2,386.0 451.4,392.5 459.0,399.0 467.6,406.6 480.0,410.5 484.3,412.7 501.7,412.7 506.0,411.4 515.8,411.4 523.4,415.3 531.0,424.0 539.0,435.9 547.3,441.8 554.9,449.6 563.6,453.9 573.4,454.8 584.2,457.5 603.8,457.5 610.9,456.4"/>
<polyline fill="none" stroke="#ff0000" stroke-width="1.1" stroke-dasharray="3 3" points="3.3,446.3 13.0,446.1 21.7,445.2 30.4,443.1 39.0,440.9 51.5,439.2 65.0,438.1 82.5,438.5 91.2,440.2 99.9,441.8 108.6,443.1 117.2,443.1 125.9,441.8 134.6,440.2 143.3,438.1 152.0,435.9 160.0,434.0 168.7,428.3 179.5,422.2 188.2,417.4 199.0,411.4 211.0,405.5 220.8,401.2 229.5,397.5 242.5,392.5 251.2,390.3 259.9,387.5 268.6,386.0 281.6,385.3 299.0,386.0 312.0,386.6 320.0,387.8 333.0,389.7 346.0,388.1 358.0,386.6 367.8,382.7 380.8,379.5 393.8,376.2 406.8,373.6 419.9,373.6 428.6,375.1 441.6,377.3 452.4,381.6 463.3,385.3 472.0,389.2 480.0,393.6 483.3,394.7 493.0,399.6 503.9,403.3 515.8,407.7 531.0,412.0 543.0,417.0 554.9,422.9 563.6,428.3 573.4,434.8 584.2,441.3 595.0,448.3 603.8,450.4 610.9,454.8"/>
<g stroke="#000" stroke-width="1" fill="none" shape-rendering="crispEdges">
<path d="M773.5 2.5H2.5V234.5H773.5V2.5"/>
<path d="M773.5 236.5H2.5V293.5H773.5V236.5"/>
<path d="M773.5 295.5H2.5V361.5H773.5V295.5"/>
<path d="M773.5 363.5H2.5V462.5H773.5V363.5"/>
<line x1="774" y1="8.5" x2="776" y2="8.5"/>
<line x1="774" y1="40.5" x2="776" y2="40.5"/>
<line x1="774" y1="72.5" x2="776" y2="72.5"/>
<line x1="774" y1="104.5" x2="776" y2="104.5"/>
<line x1="774" y1="136.5" x2="776" y2="136.5"/>
<line x1="774" y1="168.5" x2="776" y2="168.5"/>
<line x1="774" y1="200.5" x2="776" y2="200.5"/>
<line x1="774" y1="232.5" x2="776" y2="232.5"/>
<line x1="774" y1="238.5" x2="775" y2="238.5"/>
<line x1="774" y1="248.5" x2="775" y2="248.5"/>
<line x1="774" y1="265.5" x2="775" y2="265.5"/>
<line x1="774" y1="281.5" x2="775" y2="281.5"/>
<line x1="774" y1="297.5" x2="775" y2="297.5"/>
<line x1="774" y1="309.5" x2="775" y2="309.5"/>
<line x1="774" y1="328.5" x2="775" y2="328.5"/>
<line x1="774" y1="348.5" x2="775" y2="348.5"/>
<line x1="774" y1="365.5" x2="775" y2="365.5"/>
<line x1="774" y1="419.5" x2="775" y2="419.5"/>
<line x1="774" y1="456.5" x2="775" y2="456.5"/>
<line x1="3.5" y1="463" x2="3.5" y2="466"/>
<line x1="67.5" y1="463" x2="67.5" y2="466"/>
<line x1="131.5" y1="463" x2="131.5" y2="466"/>
<line x1="195.5" y1="463" x2="195.5" y2="466"/>
<line x1="259.5" y1="463" x2="259.5" y2="466"/>
<line x1="323.5" y1="463" x2="323.5" y2="466"/>
<line x1="387.5" y1="463" x2="387.5" y2="466"/>
<line x1="451.5" y1="463" x2="451.5" y2="466"/>
<line x1="515.5" y1="463" x2="515.5" y2="466"/>
<line x1="579.5" y1="463" x2="579.5" y2="466"/>
</g>
<rect x="6" y="4.5" width="202" height="11.5" fill="#fff"/>
<g filter="url(#tf)">
<text x="7.0" y="14.0" textLength="52.6" lengthAdjust="spacingAndGlyphs">EURUSD,H1</text>
<text x="67.8" y="14.0" textLength="32.0" lengthAdjust="spacingAndGlyphs">1.35817</text>
<text x="103.5" y="14.0" textLength="32.0" lengthAdjust="spacingAndGlyphs">1.35847</text>
<text x="139.2" y="14.0" textLength="32.0" lengthAdjust="spacingAndGlyphs">1.35727</text>
<text x="174.9" y="14.0" textLength="32.0" lengthAdjust="spacingAndGlyphs">1.35813</text>
<text x="718.0" y="14.0" textLength="52.5" lengthAdjust="spacingAndGlyphs" style="fill:#2f4f4f;stroke:#2f4f4f">50.0 1.37336</text>
<text x="779.7" y="11.0" textLength="31.0" lengthAdjust="spacingAndGlyphs">1.37440</text>
<text x="779.7" y="43.0" textLength="31.0" lengthAdjust="spacingAndGlyphs">1.36990</text>
<text x="779.7" y="75.0" textLength="31.0" lengthAdjust="spacingAndGlyphs">1.36540</text>
<text x="779.7" y="107.0" textLength="31.0" lengthAdjust="spacingAndGlyphs">1.36090</text>
<text x="779.7" y="139.0" textLength="31.0" lengthAdjust="spacingAndGlyphs">1.35640</text>
<text x="779.7" y="171.0" textLength="31.0" lengthAdjust="spacingAndGlyphs">1.35180</text>
<text x="779.7" y="203.0" textLength="31.0" lengthAdjust="spacingAndGlyphs">1.34730</text>
<text x="779.7" y="235.0" textLength="31.0" lengthAdjust="spacingAndGlyphs">1.34280</text>
<rect x="776" y="105" width="35" height="11" fill="#8b4513"/>
<rect x="776" y="118" width="35" height="11" fill="#000"/>
<text x="779.7" y="114.0" textLength="31.0" lengthAdjust="spacingAndGlyphs" style="fill:#fff;stroke:#fff">1.35991</text>
<text x="779.7" y="127.0" textLength="31.0" lengthAdjust="spacingAndGlyphs" style="fill:#fff;stroke:#fff">1.35813</text>
<text x="6.9" y="250.0" textLength="31.6" lengthAdjust="spacingAndGlyphs">RSI(14)</text>
<text x="42.0" y="250.0" textLength="33.0" lengthAdjust="spacingAndGlyphs">38.5665</text>
<text x="80.8" y="250.0" textLength="40.2" lengthAdjust="spacingAndGlyphs">-&gt;MA(10)</text>
<text x="124.8" y="250.0" textLength="32.4" lengthAdjust="spacingAndGlyphs">36.4320</text>
<text x="6.9" y="309.0" textLength="48.9" lengthAdjust="spacingAndGlyphs">Stoch(5,3,3)</text>
<text x="59.8" y="309.0" textLength="32.0" lengthAdjust="spacingAndGlyphs">60.3155</text>
<text x="95.7" y="309.0" textLength="32.0" lengthAdjust="spacingAndGlyphs">62.9936</text>
<text x="6.9" y="377.0" textLength="64.7" lengthAdjust="spacingAndGlyphs">MACD(12,26,9)</text>
<text x="75.5" y="377.0" textLength="40.7" lengthAdjust="spacingAndGlyphs">-0.002271</text>
<text x="120.0" y="377.0" textLength="40.5" lengthAdjust="spacingAndGlyphs">-0.002131</text>
<text x="164.3" y="377.0" textLength="36.0" lengthAdjust="spacingAndGlyphs">0.000000</text>
<text x="204.5" y="377.0" textLength="40.6" lengthAdjust="spacingAndGlyphs">-0.000140</text>
<text x="5.6" y="457.0" textLength="49.5" lengthAdjust="spacingAndGlyphs">MetaTrader</text>
<text x="59.3" y="457.0" textLength="3.6" lengthAdjust="spacingAndGlyphs">-</text>
<text x="67.7" y="457.0" textLength="25.7" lengthAdjust="spacingAndGlyphs">Alpari</text>
<text x="95.7" y="457.0" textLength="15.0" lengthAdjust="spacingAndGlyphs">UK,</text>
<text x="115.4" y="457.0" textLength="4.4" lengthAdjust="spacingAndGlyphs">?</text>
<text x="123.7" y="457.0" textLength="42.7" lengthAdjust="spacingAndGlyphs">2001-2009</text>
<text x="169.8" y="457.0" textLength="52.8" lengthAdjust="spacingAndGlyphs">MetaQuotes</text>
<text x="226.0" y="457.0" textLength="39.6" lengthAdjust="spacingAndGlyphs">Software</text>
<text x="268.8" y="457.0" textLength="23.8" lengthAdjust="spacingAndGlyphs">Corp.</text>
<text x="777.5" y="247.0" textLength="13.0" lengthAdjust="spacingAndGlyphs">100</text>
<text x="775.6" y="251.0" textLength="10.0" lengthAdjust="spacingAndGlyphs">80</text>
<text x="775.6" y="268.0" textLength="10.0" lengthAdjust="spacingAndGlyphs">50</text>
<text x="775.6" y="284.0" textLength="10.0" lengthAdjust="spacingAndGlyphs">20</text>
<text x="777.2" y="290.0" textLength="4.8" lengthAdjust="spacingAndGlyphs">0</text>
<text x="778.0" y="306.0" textLength="13.0" lengthAdjust="spacingAndGlyphs">100</text>
<text x="775.6" y="312.0" textLength="10.0" lengthAdjust="spacingAndGlyphs">80</text>
<text x="775.6" y="331.0" textLength="10.0" lengthAdjust="spacingAndGlyphs">50</text>
<text x="775.6" y="351.0" textLength="10.0" lengthAdjust="spacingAndGlyphs">20</text>
<text x="777.2" y="358.0" textLength="4.8" lengthAdjust="spacingAndGlyphs">0</text>
<text x="776.8" y="374.0" textLength="37.5" lengthAdjust="spacingAndGlyphs">0.003422</text>
<text x="776.8" y="422.0" textLength="17.5" lengthAdjust="spacingAndGlyphs">0.00</text>
<text x="777.4" y="460.0" textLength="41.0" lengthAdjust="spacingAndGlyphs">-0.002627</text>
<text x="2.7" y="475.0" textLength="45.6" lengthAdjust="spacingAndGlyphs">1 Mar 2010</text>
<text x="66.7" y="475.0" textLength="49.0" lengthAdjust="spacingAndGlyphs">2 Mar 06:00</text>
<text x="130.7" y="475.0" textLength="49.0" lengthAdjust="spacingAndGlyphs">2 Mar 14:00</text>
<text x="194.7" y="475.0" textLength="49.0" lengthAdjust="spacingAndGlyphs">2 Mar 22:00</text>
<text x="258.7" y="475.0" textLength="49.0" lengthAdjust="spacingAndGlyphs">3 Mar 06:00</text>
<text x="322.7" y="475.0" textLength="49.0" lengthAdjust="spacingAndGlyphs">3 Mar 14:00</text>
<text x="386.7" y="475.0" textLength="49.0" lengthAdjust="spacingAndGlyphs">3 Mar 22:00</text>
<text x="450.7" y="475.0" textLength="49.0" lengthAdjust="spacingAndGlyphs">4 Mar 06:00</text>
<text x="514.7" y="475.0" textLength="49.0" lengthAdjust="spacingAndGlyphs">4 Mar 14:00</text>
<text x="578.7" y="475.0" textLength="49.0" lengthAdjust="spacingAndGlyphs">4 Mar 22:00</text>
</g>
</svg></body></html>
